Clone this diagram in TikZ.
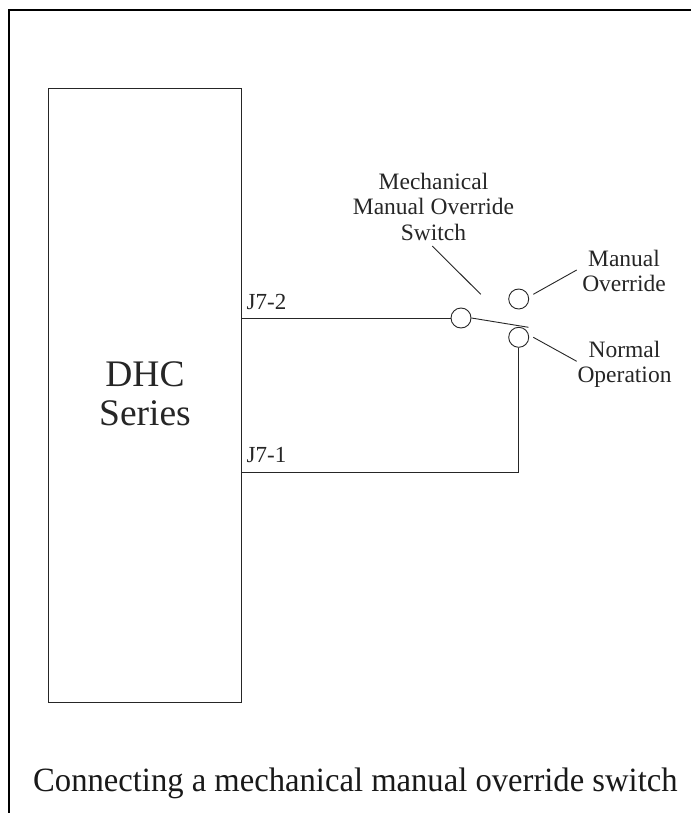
\documentclass[tikz,border=0pt]{standalone}
\usepackage{fontspec}
\setmainfont{Liberation Serif}
\newfontfamily\capfont[FakeStretch=0.96]{Liberation Serif}
\tikzset{
  wire/.style={draw=black!85,line width=0.9pt},
  frameline/.style={draw=black,line width=2.4pt},
  term/.style={circle,draw=black!85,line width=0.9pt,minimum size=20pt,inner sep=0pt},
  lbl/.style={font=\fontsize{23.5}{25.5}\selectfont,align=center,inner sep=0pt,text=black!85},
  pin/.style={font=\fontsize{23}{24}\selectfont,anchor=base west,inner sep=0pt,text=black!85}
}
\begin{document}
\begin{tikzpicture}[x=1pt,y=-1pt]
\useasboundingbox (0,0) rectangle (691,813);
\fill[white] (0,0) rectangle (691,813);
\coordinate (fb) at (9.2,813);
\coordinate (fc) at (9.2,10);
\coordinate (fr) at (691,10);
\draw[frameline] (fb) -- (fc) -- (fr);
\node[wire,draw,minimum width=193pt,minimum height=614pt,inner sep=0pt] (dhc) at (145,395) {};
\node[font=\fontsize{37.5}{38.7}\selectfont,align=center,inner sep=0pt,text=black!85] (name) at (145,394) {DHC\\Series};
\node[term] (sw) at (461,318) {};
\node[term] (mo) at (518.7,299) {};
\node[term] (no) at (518.7,337.3) {};
\coordinate (j2) at (241.5,318);
\coordinate (j1) at (241.5,472.5);
\coordinate (corner) at (518.7,472.5);
\coordinate (bladeend) at (528.5,327.3);
\draw[wire] (j2) -- (sw.west);
\draw[wire] (sw.east) -- (bladeend);
\draw[wire] (j1) -- (corner) -- (no.south);
\node[pin] (p2) at (246.5,309) {J7-2};
\node[pin] (p1) at (246.5,462) {J7-1};
\node[lbl] (swl) at (433.5,206.5) {Mechanical\\Manual Override\\Switch};
\node[lbl] (mol) at (624,271) {Manual\\Override};
\node[lbl] (nol) at (624.5,364.5) {Normal\\Operation};
\coordinate (a1) at (432.3,246);
\coordinate (a2) at (480.7,294.3);
\coordinate (b1) at (533.3,294.3);
\coordinate (b2) at (576.7,270);
\coordinate (c1) at (533.3,337.3);
\coordinate (c2) at (576.7,361.3);
\draw[wire] (a1) -- (a2);
\draw[wire] (b1) -- (b2);
\draw[wire] (c1) -- (c2);
\node[font=\capfont\fontsize{34}{36}\selectfont,anchor=base west,inner sep=0pt,text=black!90] (cap) at (33,791.7) {Connecting a mechanical manual override switch};
\end{tikzpicture}
\end{document}
